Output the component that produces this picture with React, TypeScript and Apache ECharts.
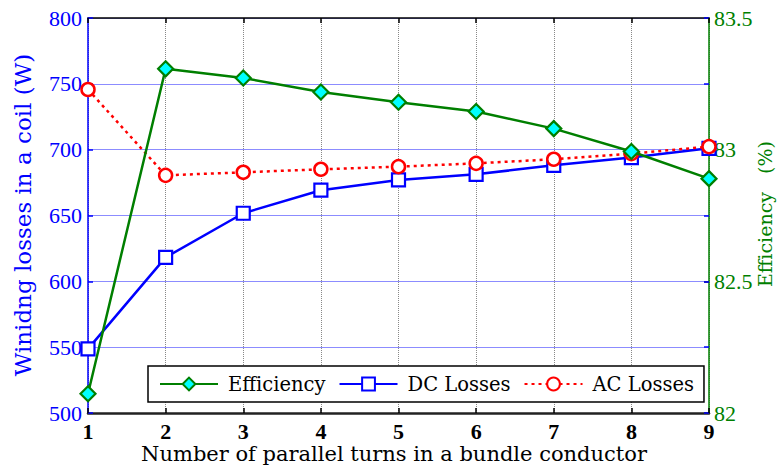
import React, { useEffect, useRef } from "react";
import * as echarts from "echarts";

const turns = [1, 2, 3, 4, 5, 6, 7, 8, 9];
const efficiency = [82.073, 83.307, 83.272, 83.219, 83.18, 83.145, 83.08, 82.993, 82.89];
const dcLosses = [548.7, 618.2, 651.7, 669.2, 677.0, 681.3, 688.1, 694.0, 701.0];
const acLosses = [745.7, 680.5, 682.8, 685.1, 687.1, 689.6, 692.7, 697.0, 702.3];
const leftTicks = { min: 500, max: 800, step: 50 };
const rightTicks = { min: 82, max: 83.5, step: 0.5 };

const NUM_FONT = "Liberation Serif";
const TXT_FONT = "DejaVu Serif";
const GREEN = "#007f00";
const BLUE = "#0000ff";
const RED = "#ff0000";

export default function App() {
  const ref = useRef<HTMLDivElement>(null);
  useEffect(() => {
    if (!ref.current) return;
    const chart = echarts.init(ref.current, undefined, { renderer: "svg" });
    const pairs = (ys: number[]) => turns.map((x, i) => [x, ys[i]]);
    chart.setOption({
      animation: false,
      backgroundColor: "#ffffff",
      grid: { left: 88, right: 68, top: 18, bottom: 52, containLabel: false },
      legend: {
        data: ["Efficiency", "DC Losses", "AC Losses"],
        left: 148,
        top: 366,
        orient: "horizontal",
        backgroundColor: "#ffffff",
        borderColor: "#000000",
        borderWidth: 1.5,
        borderRadius: 0,
        padding: [8, 10, 8, 11],
        itemWidth: 58,
        itemHeight: 16,
        itemGap: 13,
        textStyle: { fontFamily: TXT_FONT, fontSize: 19.5, color: "#000", padding: [0, 0, 0, 5] },
      },
      xAxis: [
        {
          type: "value",
          position: "bottom",
          min: 1,
          max: 9,
          interval: 1,
          axisLine: { show: true, lineStyle: { color: "#222", width: 2.5 } },
          axisTick: { show: true, inside: true, length: 5, lineStyle: { color: "#000", width: 1.5 } },
          axisLabel: { fontFamily: NUM_FONT, fontSize: 22, fontWeight: "bold", color: "#000", margin: 7 },
          splitLine: { show: true, lineStyle: { color: "#888", width: 1, type: "dotted" } },
        },
        {
          type: "value",
          position: "top",
          min: 1,
          max: 9,
          interval: 1,
          axisLine: { show: true, onZero: false, lineStyle: { color: "#000", width: 1.5 } },
          axisTick: { show: true, inside: true, length: 5, lineStyle: { color: "#000", width: 1.5 } },
          axisLabel: { show: false },
          splitLine: { show: false },
        },
      ],
      yAxis: [
        {
          type: "value",
          position: "left",
          min: leftTicks.min,
          max: leftTicks.max,
          interval: leftTicks.step,
          axisLine: { show: true, lineStyle: { color: BLUE, width: 1.5 } },
          axisTick: { show: true, inside: true, length: 5, lineStyle: { color: BLUE, width: 1.5 } },
          axisLabel: { fontFamily: NUM_FONT, fontSize: 22, color: BLUE, margin: 6 },
          splitLine: { show: true, lineStyle: { color: "#8c8cff", width: 1 } },
        },
        {
          type: "value",
          position: "right",
          min: rightTicks.min,
          max: rightTicks.max,
          interval: rightTicks.step,
          axisLine: { show: true, lineStyle: { color: GREEN, width: 1.5 } },
          axisTick: { show: true, inside: true, length: 5, lineStyle: { color: "#222", width: 1.5 } },
          axisLabel: { fontFamily: NUM_FONT, fontSize: 22, color: GREEN, margin: 5 },
          splitLine: { show: false },
        },
        {
          type: "value",
          position: "right",
          min: leftTicks.min,
          max: leftTicks.max,
          interval: leftTicks.step,
          axisLine: { show: false },
          axisTick: { show: true, inside: true, length: 5, lineStyle: { color: BLUE, width: 1.5 } },
          axisLabel: { show: false },
          splitLine: { show: false },
        },
      ],
      series: [
        {
          name: "DC Losses",
          type: "line",
          yAxisIndex: 0,
          data: pairs(dcLosses),
          z: 3,
          symbol: "rect",
          symbolSize: 13,
          lineStyle: { color: BLUE, width: 2.5 },
          itemStyle: { color: "#ffffff", borderColor: BLUE, borderWidth: 2.2 },
        },
        {
          name: "AC Losses",
          type: "line",
          yAxisIndex: 0,
          data: pairs(acLosses),
          z: 4,
          symbol: "circle",
          symbolSize: 13,
          lineStyle: { color: RED, width: 2.5, type: [3, 4] },
          itemStyle: { color: "#ffffff", borderColor: RED, borderWidth: 2.5 },
        },
        {
          name: "Efficiency",
          type: "line",
          yAxisIndex: 1,
          data: pairs(efficiency),
          z: 5,
          symbol: "diamond",
          symbolSize: 15,
          lineStyle: { color: GREEN, width: 2.5 },
          itemStyle: { color: "#00ffff", borderColor: GREEN, borderWidth: 2.2 },
        },
      ],
      graphic: [
        {
          type: "text",
          x: 23,
          y: 215,
          rotation: Math.PI / 2,
          style: {
            text: "Winidng losses in a coil (W)",
            fontFamily: TXT_FONT,
            fontSize: 23,
            fill: BLUE,
            textAlign: "center",
            textVerticalAlign: "middle",
          },
        },
        {
          type: "text",
          x: 765,
          y: 214,
          rotation: Math.PI / 2,
          style: {
            text: "Efficiency   (%)",
            fontFamily: TXT_FONT,
            fontSize: 19,
            fill: GREEN,
            textAlign: "center",
            textVerticalAlign: "middle",
          },
        },
        {
          type: "text",
          x: 394,
          y: 454,
          style: {
            text: "Number of parallel turns in a bundle conductor",
            fontFamily: TXT_FONT,
            fontSize: 21,
            fill: "#000",
            textAlign: "center",
            textVerticalAlign: "middle",
          },
        },
      ],
    });
    return () => chart.dispose();
  }, []);
  return (
    <div
      ref={ref}
      style={{ position: "fixed", left: 0, top: 0, width: 777, height: 465, background: "#fff" }}
    />
  );
}
